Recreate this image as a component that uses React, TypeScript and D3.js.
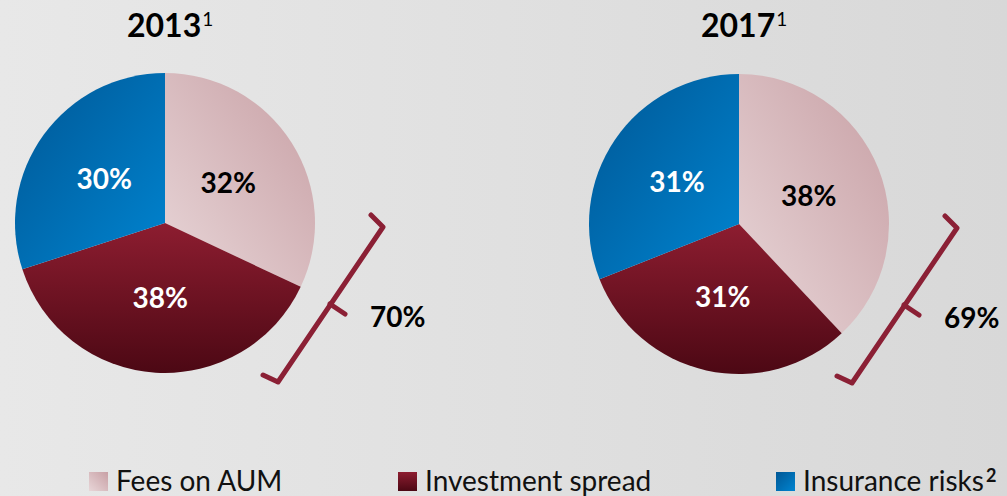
import React, { useEffect, useRef } from "react";
import * as d3 from "d3";

// slices run clockwise from 12 o'clock
const categories = ["Fees on AUM", "Investment spread", "Insurance risks"];
const footnotes = ["", "", "2"];
const years = ["2013", "2017"];
const values2013 = [32, 38, 30];
const values2017 = [38, 31, 31];
const bracketTotals = [70, 69]; // fees + investment spread

const gradients = [
    { id: "g-fees", x1: 0, y1: 1, x2: 1, y2: 0, from: "#e8d6d8", to: "#c8a0a5" },
    { id: "g-spread", x1: 0, y1: 0, x2: 0, y2: 1, from: "#8d1d30", to: "#4c0814" },
    { id: "g-risk", x1: 0, y1: 0, x2: 1, y2: 1, from: "#005795", to: "#0084d0" },
];
const labelColors = ["#000", "#fff", "#fff"];

export default function App() {
    const svgRef = useRef<SVGSVGElement | null>(null);

    useEffect(() => {
        const width = 1007;
        const height = 496;
        const radius = 150;
        const centers = [
            [165, 223],
            [739, 224],
        ];
        const font = "Lato, 'Open Sans', sans-serif";

        const svg = d3.select(svgRef.current);
        svg.selectAll("*").remove();
        svg.attr("width", width).attr("height", height);

        const defs = svg.append("defs");
        const bg = defs
            .append("linearGradient")
            .attr("id", "g-bg")
            .attr("x1", 0)
            .attr("x2", 1)
            .attr("y1", 0)
            .attr("y2", 0);
        bg.append("stop").attr("offset", 0).attr("stop-color", "#e8e8e8");
        bg.append("stop").attr("offset", 1).attr("stop-color", "#d8d8d8");

        gradients.forEach((g) => {
            const lg = defs
                .append("linearGradient")
                .attr("id", g.id)
                .attr("x1", g.x1)
                .attr("y1", g.y1)
                .attr("x2", g.x2)
                .attr("y2", g.y2);
            lg.append("stop").attr("offset", 0).attr("stop-color", g.from);
            lg.append("stop").attr("offset", 1).attr("stop-color", g.to);
        });

        svg.append("rect")
            .attr("width", width)
            .attr("height", height)
            .attr("fill", "url(#g-bg)");

        const pie = d3
            .pie<number>()
            .sort(null)
            .value((d) => d);
        const arc = d3
            .arc<d3.PieArcDatum<number>>()
            .innerRadius(0)
            .outerRadius(radius);

        const bracket = d3.line();

        [values2013, values2017].forEach((values, i) => {
            const [cx, cy] = centers[i];
            const g = svg
                .append("g")
                .attr("transform", `translate(${cx},${cy})`);

            const arcs = pie(values);
            g.selectAll("path.slice")
                .data(arcs)
                .enter()
                .append("path")
                .attr("class", "slice")
                .attr("d", arc)
                .attr("fill", (d, j) => `url(#${gradients[j].id})`);

            g.selectAll("text.pct")
                .data(arcs)
                .enter()
                .append("text")
                .attr("class", "pct")
                .attr("x", (d) => arc.centroid(d)[0])
                .attr("y", (d) => arc.centroid(d)[1])
                .attr("dy", "0.36em")
                .attr("text-anchor", "middle")
                .attr("fill", (d, j) => labelColors[j])
                .style("font-family", font)
                .style("font-weight", 700)
                .style("font-size", "28px")
                .text((d) => `${d.data}%`);

            // title with superscript
            const title = g
                .append("text")
                .attr("x", -38)
                .attr("y", 37 - cy)
                .style("font-family", font);
            title
                .append("tspan")
                .style("font-weight", 700)
                .style("font-size", "32px")
                .text(years[i]);
            title
                .append("tspan")
                .attr("dx", 1)
                .attr("dy", -11)
                .style("font-size", "19px")
                .text("1");

            // bracket around fees + spread
            g.append("path")
                .attr(
                    "d",
                    bracket([
                        [206, -8],
                        [218, 4],
                        [113, 159],
                        [98, 152],
                    ])
                )
                .attr("fill", "none")
                .attr("stroke", "#8b2035")
                .attr("stroke-width", 5)
                .attr("stroke-linejoin", "round")
                .attr("stroke-linecap", "round");
            g.append("path")
                .attr(
                    "d",
                    bracket([
                        [165, 81],
                        [180, 91],
                    ])
                )
                .attr("fill", "none")
                .attr("stroke", "#8b2035")
                .attr("stroke-width", 5)
                .attr("stroke-linecap", "round");

            g.append("text")
                .attr("x", 205)
                .attr("y", 104)
                .style("font-family", font)
                .style("font-weight", 700)
                .style("font-size", "28px")
                .text(`${bracketTotals[i]}%`);
        });

        // legend
        const legendX = [89, 398, 776];
        const legend = svg
            .selectAll("g.legend")
            .data(categories)
            .enter()
            .append("g")
            .attr("class", "legend")
            .attr("transform", (d, i) => `translate(${legendX[i]},472)`);

        legend
            .append("rect")
            .attr("width", 19)
            .attr("height", 19)
            .attr("fill", (d, i) => `url(#${gradients[i].id})`);

        const label = legend
            .append("text")
            .attr("x", 27)
            .attr("y", 19)
            .style("font-family", font)
            .attr("fill", "#111");
        label
            .append("tspan")
            .style("font-size", "28px")
            .text((d) => d);
        label
            .append("tspan")
            .attr("dx", 2)
            .attr("dy", -9)
            .style("font-weight", 700)
            .style("font-size", "18px")
            .text((d, i) => footnotes[i]);
    }, []);

    return (
        <div style={{ position: "absolute", left: 0, top: 0 }}>
            <svg ref={svgRef} style={{ display: "block" }} />
        </div>
    );
}
